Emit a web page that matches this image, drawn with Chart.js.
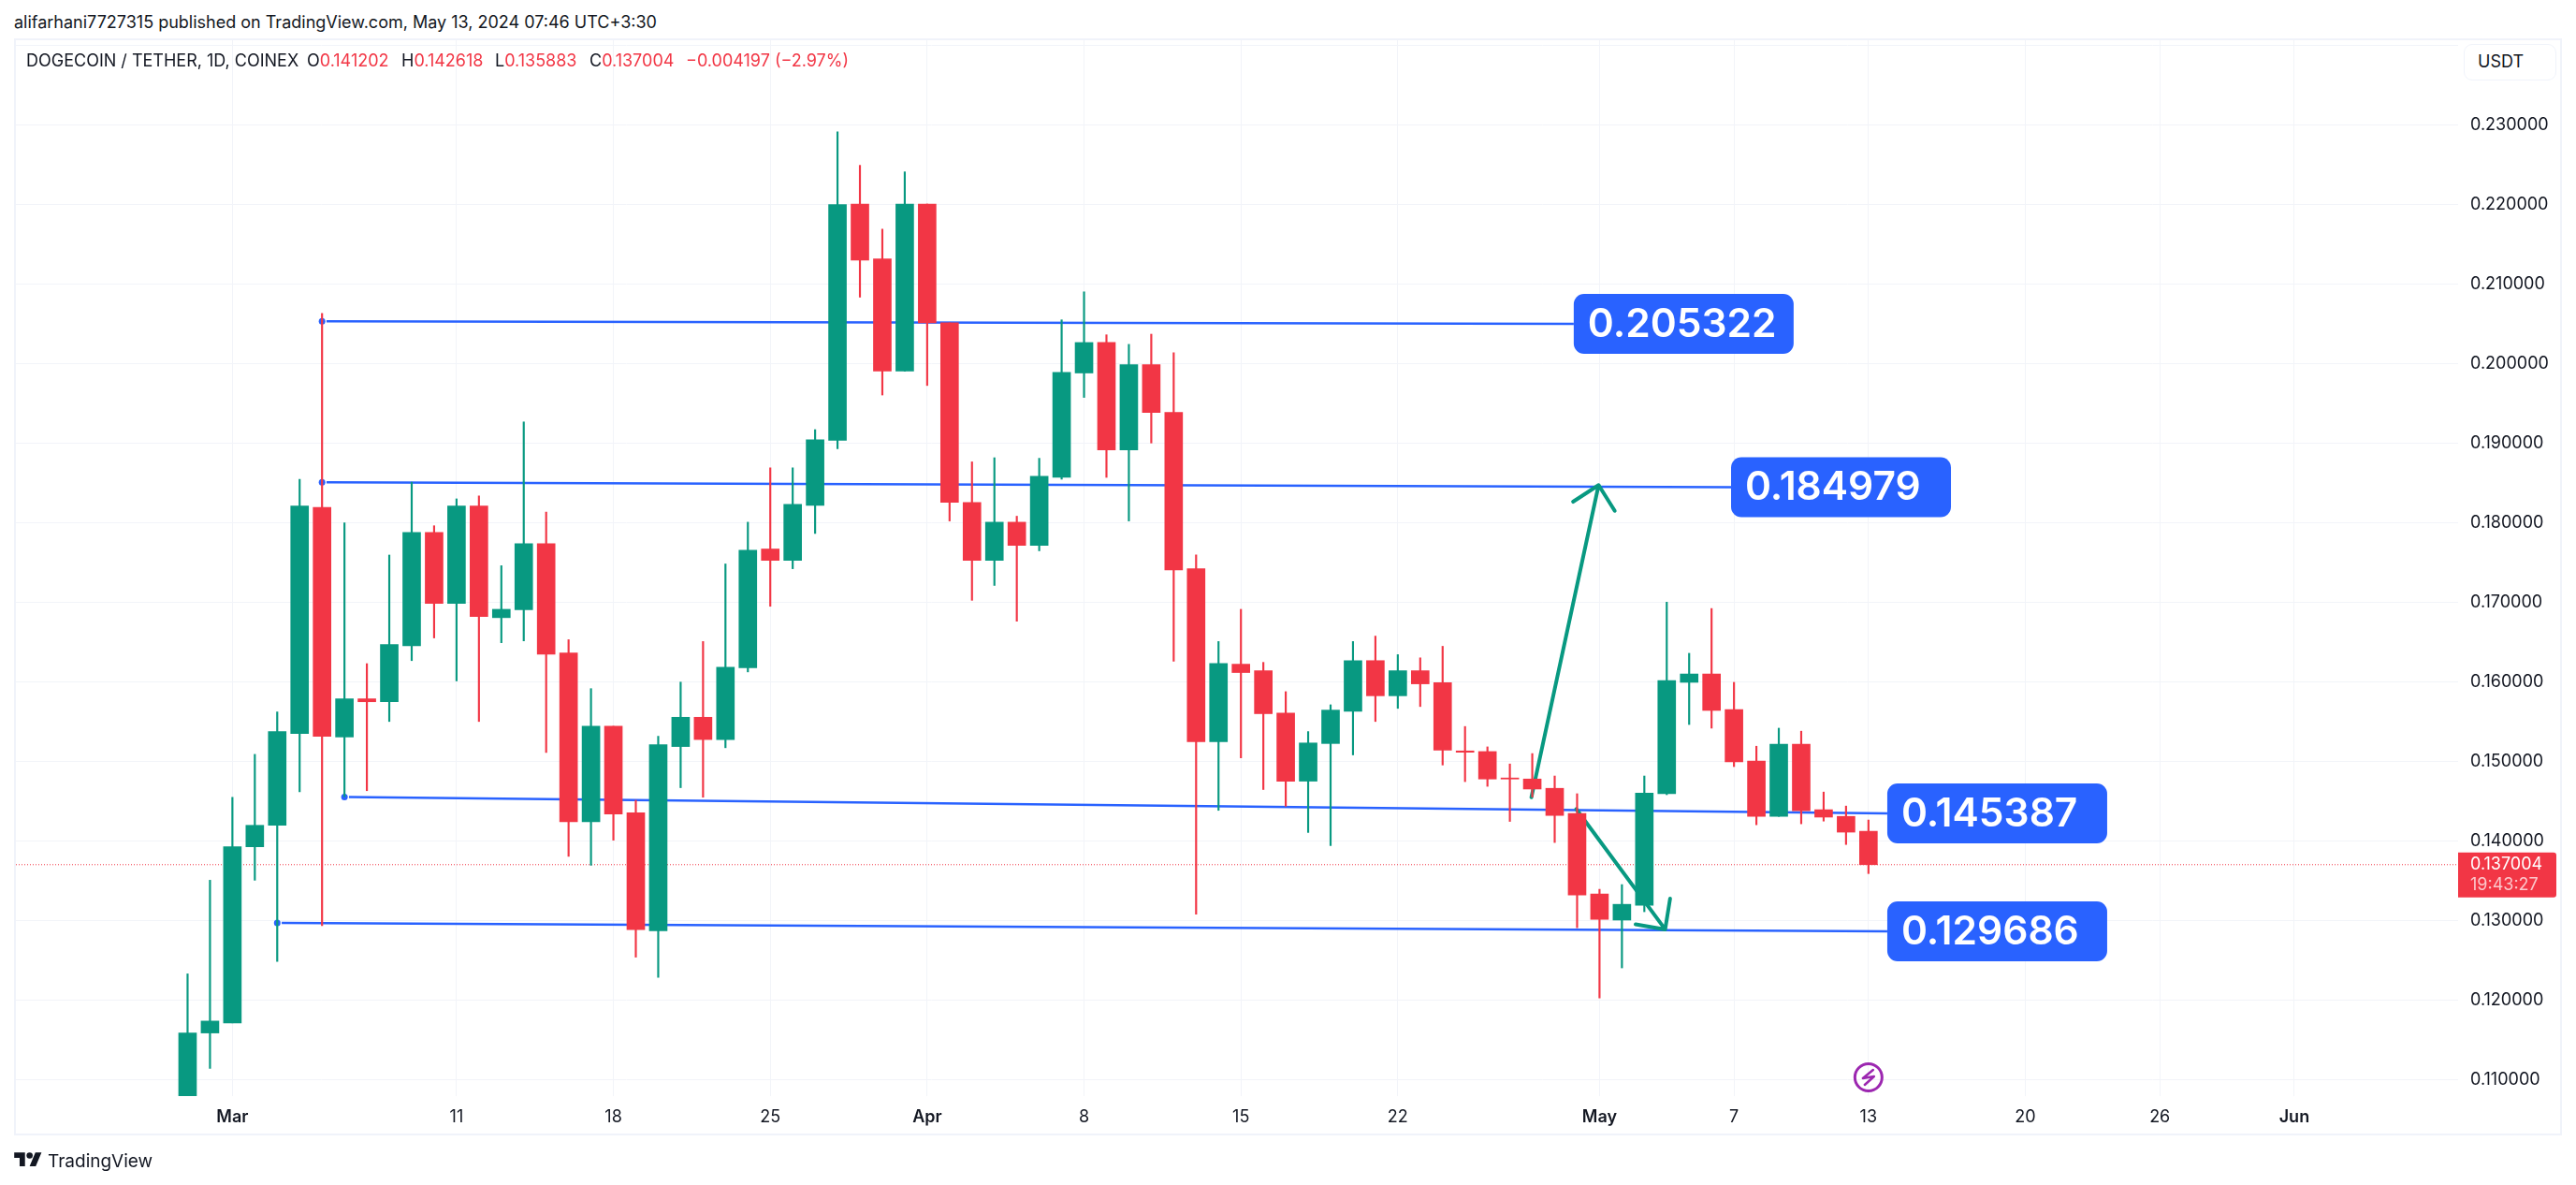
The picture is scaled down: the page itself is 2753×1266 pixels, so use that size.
<!DOCTYPE html>
<html>
<head>
<meta charset="utf-8">
<title>DOGECOIN / TETHER</title>
<script src="https://cdn.jsdelivr.net/npm/chart.js@4"></script>
<style>
  html, body { margin: 0; padding: 0; background: #fff; }
  body { width: 2753px; height: 1266px; position: relative; overflow: hidden; font-family: Inter, "Noto Sans", sans-serif; color: #131722; }
  #frame { position: absolute; left: 15px; top: 41px; width: 2719px; height: 1168px; border: 2px solid #f0f3fa; }
  #chart { position: absolute; left: 0; top: 0; }
  .txt { position: absolute; white-space: nowrap; line-height: 1; }
  .red { color: #f23645; }
  #usdt { position: absolute; left: 2633px; top: 47px; width: 97px; height: 37px; border: 1.5px solid #f0f3fa; border-radius: 9px; box-sizing: content-box; background: #fff; }
</style>
</head>
<body>
<div class="txt" id="pub" style="left:15px;top:15px;font-size:18px">alifarhani7727315 published on TradingView.com, May 13, 2024 07:46 UTC+3:30</div>
<div id="frame"></div>
<canvas id="chart" width="2753" height="1266"></canvas>
<div class="txt" style="left:28px;top:56px;font-size:18px">DOGECOIN / TETHER, 1D, COINEX</div>
<div class="txt" style="left:328px;top:56px;font-size:18px">O<span class="red">0.141202</span></div>
<div class="txt" style="left:429px;top:56px;font-size:18px">H<span class="red">0.142618</span></div>
<div class="txt" style="left:529px;top:56px;font-size:18px">L<span class="red">0.135883</span></div>
<div class="txt" style="left:630px;top:56px;font-size:18px">C<span class="red">0.137004</span></div>
<div class="txt red" style="left:733px;top:56px;font-size:18px">−0.004197 (−2.97%)</div>
<div id="usdt"></div>
<div class="txt" style="left:2648px;top:57px;font-size:18px">USDT</div>
<svg style="position:absolute;left:15px;top:1228px" width="30" height="23" viewBox="0 0 36 28"><path fill="#131722" d="M14 22H7V11H0V4h14v18zM28 22h-8l7.5-18h8L28 22z"/><circle fill="#131722" cx="20" cy="8" r="4"/></svg>
<div class="txt" style="left:51px;top:1231px;font-size:19px">TradingView</div>

<script>
// candles, x is days counted from Mar 1
const days = [-2,-1,0,1,2,3,4,5,6,7,8,9,10,11,12,13,14,15,16,17,18,19,20,21,22,23,24,25,26,27,28,29,30,31,32,33,34,35,36,37,
  38,39,40,41,42,43,44,45,46,47,48,49,50,51,52,53,54,55,56,57,58,59,60,61,62,63,64,65,66,67,68,69,70,71,72,73];
const opens = [.1075,.11585,.11712,.13925,.14195,.1535,.18192,.15305,.15785,.15748,.16452,.17877,.16985,.18207,.16805,.16903,.17735,.16362,.1424,.1544,
  .14353,.12868,.15185,.15553,.15273,.16175,.17668,.17525,.18215,.19033,.22003,.21313,.19903,.22003,.2051,.18253,.17525,.18005,.17713,.18568,
  .1988,.20263,.18913,.19985,.19385,.1742,.15245,.1622,.16138,.15605,.1475,.15223,.15628,.16265,.15823,.16138,.15988,.1513,.15122,.1479,
  .14777,.1466,.14345,.13332,.13004,.13189,.14592,.15992,.16097,.15651,.15004,.14307,.15214,.14391,.14307,.141202];
const highs = [.12328,.13505,.14547,.15087,.1562,.18545,.2063,.17998,.16227,.17592,.18508,.1796,.18298,.18335,.17458,.19265,.18133,.16528,.15913,.1544,
  .1451,.15313,.15995,.16505,.1748,.18005,.18688,.18688,.19168,.2291,.2249,.21688,.22408,.22003,.2051,.18763,.18815,.1808,.18808,.20548,
  .209,.2036,.2024,.20368,.20135,.17593,.16505,.1691,.16243,.15875,.15373,.1571,.16505,.16573,.1634,.163,.16445,.15437,.15181,.14966,
  .15097,.14815,.14592,.13391,.1345,.14815,.17,.16357,.1692,.15992,.15189,.15416,.15378,.14613,.14437,.142618];
const lows = [.1075,.1114,.11712,.13505,.12485,.14615,.12935,.14555,.1463,.155,.16265,.1655,.1601,.155,.1649,.16513,.1511,.13805,.13693,.14008,
  .12538,.12283,.14668,.14548,.1517,.16123,.16948,.1742,.17863,.18928,.20833,.19603,.19903,.19723,.1802,.17023,.1721,.1676,.17645,.18545,
  .19573,.18568,.1802,.19,.16258,.13078,.14383,.15043,.14645,.14435,.14105,.1394,.1508,.155,.15665,.15688,.14953,.14744,.14685,.14244,
  .1455,.13979,.12908,.12025,.12403,.13109,.1458,.15462,.15416,.14933,.14202,.14307,.14214,.14248,.13954,.135883];
const closes = [.11585,.11735,.13925,.14195,.15372,.18207,.15312,.15785,.15748,.16467,.17877,.16985,.18207,.1682,.1691,.17735,.16347,.1424,.1544,.14338,
  .12883,.15208,.15553,.15273,.16183,.17653,.17525,.1823,.1904,.21995,.21298,.19903,.22003,.2051,.18253,.17525,.18005,.17713,.18583,.19888,
  .20263,.18913,.19985,.19385,.17405,.15245,.16228,.16115,.15598,.1475,.1523,.15643,.16265,.15823,.16138,.15973,.1514,.15113,.14777,.14777,
  .14651,.14319,.13319,.13013,.13202,.14601,.16013,.16097,.15639,.14992,.14307,.15214,.14378,.14298,.14109,.137004];

// axis ticks
const tickDays = [0,10,17,24,31,38,45,52,61,67,73,80,86,92];
const tickLabels = ['Mar','11','18','25','Apr','8','15','22','May','7','13','20','26','Jun'];
const monthLabels = ['Mar','Apr','May','Jun'];
const priceTicks = [.11,.12,.13,.14,.15,.16,.17,.18,.19,.2,.21,.22,.23,.24];

// drawn levels
const lineStartDays = [4.2,4.2,5.2,2.2];
const lineStartPrices = [.20531,.18505,.14551,.12968];
const lineEndDays = [59.85,66.87,73.84,73.84];
const lineEndPrices = [.20498,.18445,.14345,.12862];
const levelTexts = ['0.205322','0.184979','0.145387','0.129686'];
const anchorDays = [4,4,5,2];

// the two arrows: tail, tip, head, tip, head
const arrowUpDays = [57.96,60.96,59.82,60.96,61.68];
const arrowUpPrices = [.14547,.18471,.18262,.18471,.18148];
const arrowDownDays = [59.96,63.93,64.15,63.93,62.61];
const arrowDownPrices = [.144,.12887,.13274,.12887,.1295];

const lastPrice = 0.137004;
const lastPriceText = '0.137004';
const countdown = '19:43:27';
const xMin = -9.66, xMax = 99.31;
const yMin = 0.10792, yMax = 0.24062;

const green = '#089981';
const red = '#f23645';
const blue = '#2962ff';
const gridColor = '#f2f4f9';
const upOrDown = closes.map((c, i) => c >= opens[i] ? green : red);

const toPoints = (xs, ys) => xs.map((x, i) => ({x: x, y: ys[i]}));

const lineSets = lineStartDays.map((d, i) => ({
  type: 'line',
  data: [{x: d, y: lineStartPrices[i]}, {x: lineEndDays[i], y: lineEndPrices[i]}],
  borderColor: blue, borderWidth: 2.5, pointRadius: 0, order: 4
}));

/* labels, last price tag and the flash icon go on top of everything */
const overlay = {
  id: 'overlay',
  afterDatasetsDraw(chart) {
    const c = chart.ctx, xs = chart.scales.x, ys = chart.scales.y;
    c.save();
    c.textBaseline = 'middle';
    levelTexts.forEach((t, i) => {
      const left = xs.getPixelForValue(lineEndDays[i]);
      const mid = ys.getPixelForValue(lineEndPrices[i]);
      c.fillStyle = blue;
      c.beginPath();
      c.roundRect(left, mid - 32, 235, 64, 11);
      c.fill();
      c.fillStyle = '#fff';
      c.font = '600 42.5px Inter';
      c.textAlign = 'left';
      c.fillText(t, left + 15, mid + 1);
    });

    // last price tag on the axis
    const py = ys.getPixelForValue(lastPrice);
    c.fillStyle = red;
    c.beginPath();
    c.roundRect(chart.chartArea.right, py - 13, 105, 48, [0, 3, 3, 0]);
    c.fill();
    c.font = '18px Inter';
    c.fillStyle = '#fff';
    c.fillText(lastPriceText, chart.chartArea.right + 13, py);
    c.fillStyle = 'rgba(255,255,255,0.72)';
    c.fillText(countdown, chart.chartArea.right + 13, py + 22);

    // flash icon on the last bar
    const ix = xs.getPixelForValue(73), iy = chart.chartArea.bottom - 20;
    c.strokeStyle = '#9c27b0';
    c.lineWidth = 3;
    c.beginPath();
    c.arc(ix, iy, 14.5, 0, Math.PI * 2);
    c.stroke();
    c.lineWidth = 2.5;
    c.lineJoin = 'round';
    c.lineCap = 'round';
    c.beginPath();
    c.moveTo(ix + 5, iy - 8);
    c.lineTo(ix - 6, iy + 1);
    c.lineTo(ix + 6, iy - 1);
    c.lineTo(ix - 4, iy + 8);
    c.stroke();
    c.restore();
  }
};

new Chart(document.getElementById('chart'), {
  type: 'bar',
  data: {
    datasets: [
      {
        data: days.map((d, i) => ({x: d, y: [opens[i], closes[i]]})),
        backgroundColor: upOrDown, barThickness: 19, grouped: false, order: 1
      },
      {
        data: days.map((d, i) => ({x: d, y: [lows[i], highs[i]]})),
        backgroundColor: upOrDown, barThickness: 1.5, grouped: false, order: 2
      },
      {
        type: 'line',
        data: toPoints(arrowUpDays, arrowUpPrices),
        borderColor: green, borderWidth: 4, pointRadius: 0, borderCapStyle: 'round', borderJoinStyle: 'round', order: 3
      },
      {
        type: 'line',
        data: toPoints(arrowDownDays, arrowDownPrices),
        borderColor: green, borderWidth: 4, pointRadius: 0, borderCapStyle: 'round', borderJoinStyle: 'round', order: 3
      },
      ...lineSets,
      {
        type: 'scatter',
        data: toPoints(anchorDays, lineStartPrices),
        backgroundColor: blue, borderWidth: 0, pointRadius: 3.5, order: 4
      },
      {
        type: 'line',
        data: [{x: xMin, y: lastPrice}, {x: xMax, y: lastPrice}],
        borderColor: red, borderWidth: 1, borderDash: [1, 2], pointRadius: 0, order: 5
      }
    ]
  },
  options: {
    responsive: false,
    animation: false,
    layout: {padding: {left: 17, top: 43, right: 15, bottom: 54}},
    plugins: {legend: {display: false}, tooltip: {enabled: false}},
    scales: {
      x: {
        type: 'linear', min: xMin, max: xMax, offset: false,
        border: {display: false},
        grid: {color: gridColor, lineWidth: 1, drawTicks: false, offset: false},
        afterBuildTicks: s => { s.ticks = tickDays.map(v => ({value: v})); },
        afterFit: s => { s.height = 41; },
        ticks: {
          autoSkip: false, maxRotation: 0, padding: 12, color: '#131722',
          font: ctx => ({family: 'Inter', size: 18, weight: monthLabels.includes(ctx.tick && ctx.tick.label) ? '600' : '400'}),
          callback: v => tickLabels[tickDays.indexOf(v)]
        }
      },
      y: {
        position: 'right', min: yMin, max: yMax,
        border: {display: false},
        grid: {color: gridColor, lineWidth: 1, drawTicks: false},
        afterBuildTicks: s => { s.ticks = priceTicks.map(v => ({value: v})); },
        afterFit: s => { s.width = 111; },
        ticks: {
          padding: 13, color: '#131722', font: {family: 'Inter', size: 18},
          callback: v => v > 0.235 ? '' : v.toFixed(6)
        }
      }
    }
  },
  plugins: [overlay]
});
</script>
</body>
</html>
